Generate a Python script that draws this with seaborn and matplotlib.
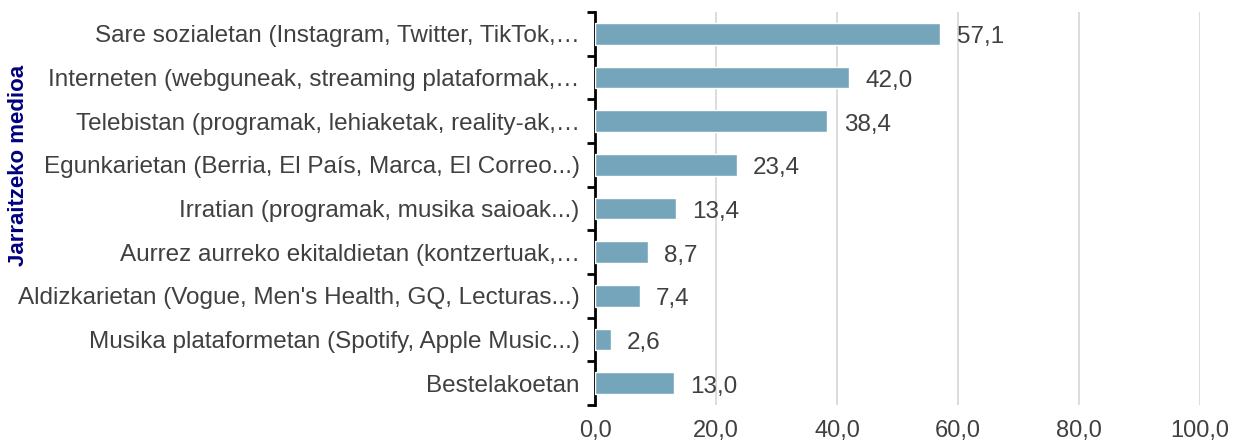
import matplotlib
matplotlib.use("Agg")
import matplotlib.pyplot as plt
import seaborn as sns
import pandas as pd
import numpy as np
from matplotlib.ticker import FixedLocator

categories = [
    "Sare sozialetan (Instagram, Twitter, TikTok,…",
    "Interneten (webguneak, streaming plataformak,…",
    "Telebistan (programak, lehiaketak, reality-ak,…",
    "Egunkarietan (Berria, El País, Marca, El Correo...)",
    "Irratian (programak, musika saioak...)",
    "Aurrez aurreko ekitaldietan (kontzertuak,…",
    "Aldizkarietan (Vogue, Men's Health, GQ, Lecturas...)",
    "Musika plataformetan (Spotify, Apple Music...)",
    "Bestelakoetan",
]
values = [57.1, 42.0, 38.4, 23.4, 13.4, 8.7, 7.4, 2.6, 13.0]
x_ticks = [0, 20, 40, 60, 80, 100]
x_tick_labels = ["0,0", "20,0", "40,0", "60,0", "80,0", "100,0"]
y_title = "Jarraitzeko medioa"

df = pd.DataFrame({"cat": categories, "val": values})

sns.set_theme(style="white")
plt.rcParams["font.family"] = ["Liberation Sans", "DejaVu Sans"]

FS = 17.5
fig = plt.figure(figsize=(12.45, 4.45), dpi=100)
ax = fig.add_axes([595/1245, 1-405/445, (1200-595)/1245, (405-12)/445])

sns.barplot(data=df, x="val", y="cat", orient="h", color="#75A5BA",
            saturation=1, width=0.5, ax=ax, zorder=3)

ax.set_xlim(0, 100)
ax.set_ylim(len(categories) - 0.5, -0.5)
ax.set_xticks(x_ticks)
ax.set_xticklabels(x_tick_labels, fontsize=17, color="#404040")
ax.tick_params(axis="x", length=0, pad=11)
ax.xaxis.grid(True, color="#D9D9D9", linewidth=1.3, zorder=0)
ax.yaxis.grid(False)
ax.set_axisbelow(True)

ax.set_yticks(range(len(categories)))
ax.set_yticklabels(categories, fontsize=FS, color="#404040")
ax.yaxis.set_minor_locator(FixedLocator(np.arange(-0.5, len(categories), 1)))
ax.tick_params(axis="y", which="major", length=0, pad=11)
ax.tick_params(axis="y", which="minor", length=6, width=2, color="black", left=True)

for s in ["top", "right", "bottom"]:
    ax.spines[s].set_visible(False)
ax.spines["left"].set_color("black")
ax.spines["left"].set_linewidth(2)

for i, v in enumerate(values):
    ax.text(v + 2.7, i + 0.08, f"{v:.1f}".replace(".", ","), fontsize=FS,
            color="#404040", va="center", ha="left")

ax.set_xlabel("")
ax.set_ylabel("")
fig.text(19/1245, 1-165/445, y_title, rotation=90, fontsize=16, fontweight="bold",
         color="#000080", ha="center", va="center")

fig.savefig("out.png", dpi=100)
